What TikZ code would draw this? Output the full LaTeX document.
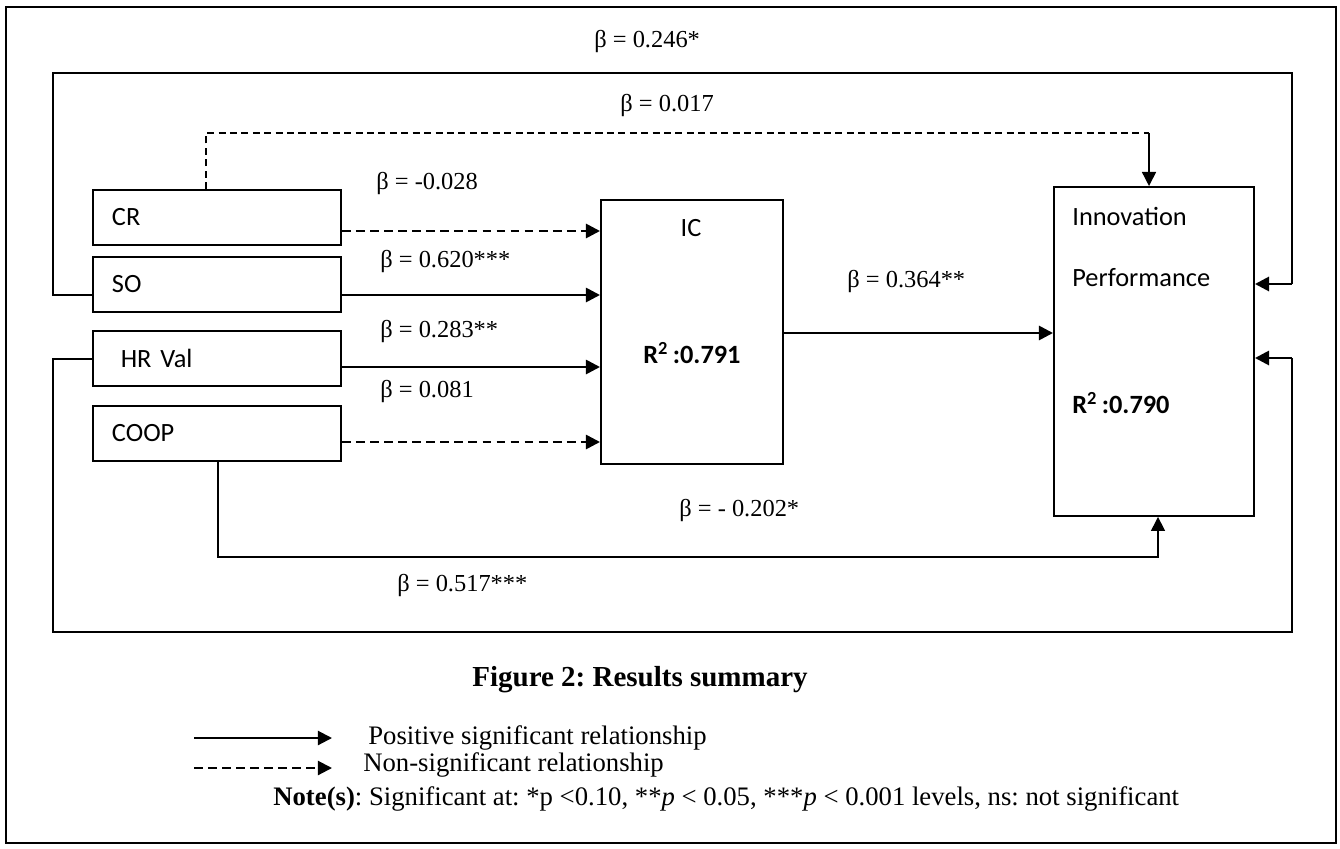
\documentclass[tikz,border=0pt]{standalone}
\usepackage{fontspec}
\setmainfont{Liberation Serif}
\newfontfamily\calibri{Carlito}
\usetikzlibrary{arrows.meta,positioning}
\frenchspacing

\tikzset{
  var/.style={draw, line width=1.1pt, anchor=north west, inner sep=0pt,
    minimum width=4.96cm, minimum height=1.1cm, text width=4.2cm, align=left,
    font=\calibri\fontsize{15}{18}\selectfont},
  bigbox/.style={draw, line width=1.1pt, anchor=north west, inner sep=0pt},
  boxtext/.style={anchor=west, inner sep=0pt, font=\calibri\fontsize{15}{18}\selectfont},
  rsq/.style={anchor=west, inner sep=0pt, font=\calibri\bfseries\fontsize{15}{18}\selectfont},
  coef/.style={anchor=west, inner sep=0pt, font=\fontsize{13.9}{16}\selectfont},
  legtext/.style={anchor=west, inner sep=0pt, font=\fontsize{15.2}{18}\selectfont},
  tip/.style={-{Triangle[length=8pt,width=8pt]}},
  sig/.style={tip, line width=1.5pt},
  ns/.style={tip, line width=1.5pt, dash pattern=on 5pt off 3pt},
  feed/.style={line width=0.85pt},
}

\begin{document}
\begin{tikzpicture}
    \useasboundingbox (0,0) rectangle (26.8,16.96);
    \draw[line width=1.1pt] (0.12,0.1) rectangle (26.72,16.82);

    \node[var] (cr) at (1.84,13.18) {CR};
    \node[var] (so) at (1.84,11.84) {SO};
    \node[var] (hr) at (1.84,10.36) {~HR Val};
    \node[var] (coop) at (1.84,8.86) {COOP};

    \node[bigbox, minimum width=3.64cm, minimum height=5.28cm] (ic) at (12.0,12.98) {};
    \node[boxtext, anchor=center] (ictitle) at (13.82,12.4) {IC};
    \node[rsq] (icrsq) at (12.86,9.9) {R\textsuperscript{2}\,:0.791};

    \node[bigbox, minimum width=4.0cm, minimum height=6.58cm] (ip) at (21.06,13.24) {};
    \node[boxtext] (iptop) at (21.44,12.64) {Innovation};
    \node[boxtext] (ipbot) at (21.44,11.4) {Performance};
    \node[rsq] (iprsq) at (21.44,8.9) {R\textsuperscript{2}\,:0.790};

    % paths into IC
    \draw[ns] (cr.east |- 0,12.34) -- (ic.west |- 0,12.34);
    \draw[sig] (so.east |- 0,11.06) -- (ic.west |- 0,11.06);
    \draw[sig] (hr.east |- 0,9.62) -- (ic.west |- 0,9.62);
    \draw[ns] (coop.east |- 0,8.12) -- (ic.west |- 0,8.12);
    \draw[sig] (ic.east |- 0,10.3) -- (ip.west |- 0,10.3);

    % direct paths into innovation performance
    \coordinate (crturn) at (22.98,14.3);
    \coordinate (soturn) at (25.84,11.28);
    \coordinate (hrturn) at (25.84,9.8);
    \draw[feed, dash pattern=on 4pt off 2.5pt] (cr.north -| 4.12,0) |- (crturn);
    \draw[feed, tip] (crturn) -- (ip.north -| crturn);
    \draw[feed] (so.west |- 0,11.06) -| (1.06,15.5) -| (soturn);
    \draw[sig] (soturn) -- (ip.east |- soturn);
    \draw[feed] (hr.west |- 0,9.78) -| (1.06,4.32) -| (hrturn);
    \draw[sig] (hrturn) -- (ip.east |- hrturn);
    \draw[feed, tip] (coop.south -| 4.36,0) |- (23.16,5.82) -- (ip.south -| 23.16,0);

    \node[coef] (b246) at (11.88,16.12) {β = 0.246*};
    \node[coef] (b017) at (12.4,14.84) {β = 0.017};
    \node[coef] (b028) at (7.52,13.3) {β = -0.028};
    \node[coef] (b620) at (7.6,11.74) {β = 0.620***};
    \node[coef] (b364) at (16.94,11.34) {β = 0.364**};
    \node[coef] (b283) at (7.6,10.34) {β = 0.283**};
    \node[coef] (b081) at (7.6,9.14) {β = 0.081};
    \node[coef] (b202) at (13.58,6.76) {β = - 0.202*};
    \node[coef] (b517) at (7.94,5.26) {β = 0.517***};

    \node[font=\bfseries\fontsize{16.5}{20}\selectfont] (caption) at (12.8,3.36) {Figure 2: Results summary};

    \coordinate (solida) at (3.88,2.2);
    \coordinate (solidb) at (6.64,2.2);
    \coordinate (dasha) at (3.88,1.6);
    \coordinate (dashb) at (6.64,1.6);
    \draw[sig, line width=1.2pt] (solida) -- (solidb);
    \draw[ns, line width=1.2pt] (dasha) -- (dashb);
    \node[legtext] (legsig) at (7.36,2.2) {Positive significant relationship};
    \node[legtext] (legns) at (7.26,1.66) {Non-significant relationship};
    \node[legtext] (note) at (5.46,0.98) {\textbf{Note(s)}: Significant at: *p <0.10, **\textit{p} < 0.05, ***\textit{p} < 0.001 levels, ns: not significant};
\end{tikzpicture}
\end{document}
